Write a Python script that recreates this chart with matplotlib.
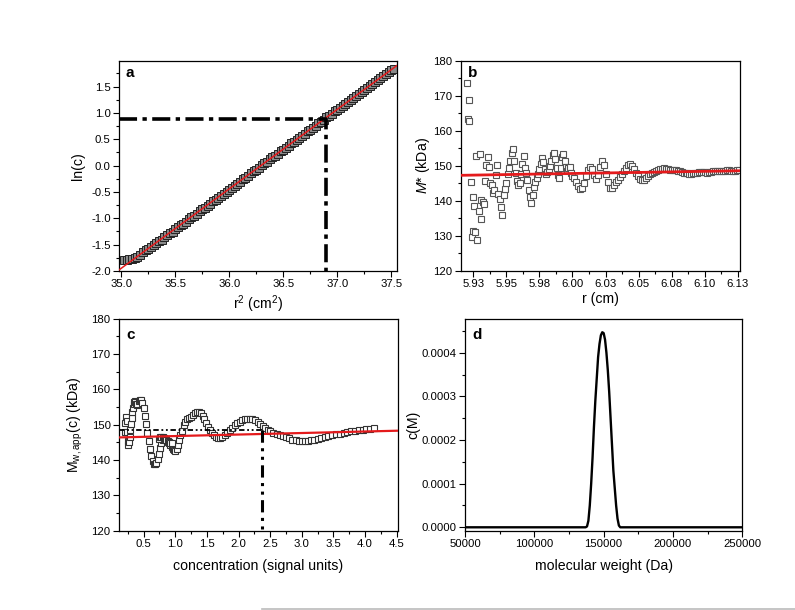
import matplotlib
matplotlib.use("Agg")
import matplotlib.pyplot as plt
from matplotlib.ticker import MultipleLocator, FixedLocator, FormatStrFormatter
from matplotlib.lines import Line2D

plt.rcParams['font.family'] = ['Liberation Sans', 'DejaVu Sans']
plt.rcParams['mathtext.fontset'] = 'custom'
plt.rcParams['mathtext.rm'] = 'Liberation Sans'
plt.rcParams['mathtext.it'] = 'Liberation Sans:italic'
plt.rcParams['mathtext.bf'] = 'Liberation Sans:bold'

# ---------------- data: panel a ----------------
rsq = [35.025, 35.050, 35.075, 35.100, 35.125, 35.150, 35.175, 35.200, 35.225, 35.250,
       35.275, 35.300, 35.325, 35.350, 35.375, 35.400, 35.425, 35.450, 35.475, 35.500,
       35.525, 35.550, 35.575, 35.600, 35.625, 35.650, 35.675, 35.700, 35.725, 35.750,
       35.775, 35.800, 35.825, 35.850, 35.875, 35.900, 35.925, 35.950, 35.975, 36.000,
       36.025, 36.050, 36.075, 36.100, 36.125, 36.150, 36.175, 36.200, 36.225, 36.250,
       36.275, 36.300, 36.325, 36.350, 36.375, 36.400, 36.425, 36.450, 36.475, 36.500,
       36.525, 36.550, 36.575, 36.600, 36.625, 36.650, 36.675, 36.700, 36.725, 36.750,
       36.775, 36.800, 36.825, 36.850, 36.875, 36.900, 36.925, 36.950, 36.975, 37.000,
       37.025, 37.050, 37.075, 37.100, 37.125, 37.150, 37.175, 37.200, 37.225, 37.250,
       37.275, 37.300, 37.325, 37.350, 37.375, 37.400, 37.425, 37.450, 37.475, 37.500,
       37.525]
lnc = [-1.79, -1.79, -1.78, -1.77, -1.76, -1.73, -1.69, -1.64, -1.61, -1.59,
       -1.55, -1.50, -1.46, -1.44, -1.41, -1.36, -1.31, -1.28, -1.26, -1.21,
       -1.16, -1.13, -1.11, -1.07, -1.02, -0.98, -0.96, -0.92, -0.87, -0.83,
       -0.81, -0.77, -0.72, -0.68, -0.66, -0.62, -0.57, -0.53, -0.51, -0.47,
       -0.42, -0.38, -0.35, -0.31, -0.26, -0.23, -0.20, -0.15, -0.11, -0.08,
       -0.04, 0.01, 0.04, 0.07, 0.12, 0.16, 0.18, 0.22, 0.27, 0.30,
       0.33, 0.38, 0.42, 0.44, 0.49, 0.53, 0.56, 0.60, 0.65, 0.68,
       0.71, 0.76, 0.80, 0.83, 0.87, 0.92, 0.95, 0.98, 1.03, 1.06,
       1.09, 1.14, 1.17, 1.20, 1.25, 1.29, 1.32, 1.36, 1.40, 1.43,
       1.48, 1.51, 1.55, 1.59, 1.62, 1.66, 1.70, 1.74, 1.77, 1.81,
       1.84]
fit_a_x = [34.979, 37.553]
fit_a_y = [-1.98, 1.90]
guide_a_x = [34.979, 36.9, 36.9]
guide_a_y = [0.88, 0.88, -2.0]

# ---------------- data: panel b ----------------
r_cm = [5.920, 5.921, 5.9215, 5.922, 5.923, 5.924, 5.9245, 5.925, 5.9255, 5.926,
        5.927, 5.928, 5.929, 5.930, 5.9305, 5.931, 5.932, 5.933, 5.934, 5.935,
        5.936, 5.937, 5.938, 5.939, 5.940, 5.941, 5.942, 5.943, 5.944, 5.945,
        5.946, 5.947, 5.948, 5.949, 5.950, 5.951, 5.952, 5.953, 5.954, 5.955,
        5.956, 5.957, 5.958, 5.959, 5.960, 5.961, 5.962, 5.963, 5.964, 5.965,
        5.966, 5.967, 5.968, 5.969, 5.970, 5.971, 5.972, 5.973, 5.974, 5.975,
        5.976, 5.977, 5.978, 5.979, 5.980, 5.981, 5.982, 5.983, 5.984, 5.985,
        5.986, 5.987, 5.988, 5.989, 5.990, 5.991, 5.992, 5.993, 5.994, 5.995,
        5.996, 5.997, 5.998, 5.999, 6.000,
        6.0015, 6.003, 6.0045, 6.006, 6.0075, 6.009, 6.0105, 6.012, 6.0135, 6.015,
        6.0165, 6.018, 6.0195, 6.021, 6.0225, 6.024, 6.0255, 6.027, 6.0285, 6.030,
        6.0315, 6.033, 6.0345, 6.036, 6.0375, 6.039, 6.0405, 6.042, 6.0435, 6.045,
        6.0465, 6.048, 6.0495, 6.051, 6.0525, 6.054, 6.0555, 6.057, 6.0585, 6.060,
        6.0615, 6.063, 6.0645, 6.066, 6.0675, 6.069, 6.0705, 6.072, 6.0735, 6.075,
        6.0765, 6.078, 6.0795, 6.081, 6.0825, 6.084, 6.0855, 6.087, 6.0885, 6.090,
        6.0915, 6.093, 6.0945, 6.096, 6.0975, 6.099, 6.1005, 6.102, 6.1035, 6.105,
        6.1065, 6.108, 6.1095, 6.111, 6.1125, 6.114, 6.1155, 6.117, 6.1185, 6.120,
        6.1215, 6.123, 6.1245, 6.126]
m_star = [173.5, 163.3, 162.7, 168.7, 145.5, 129.8, 141.2, 131.3, 138.5, 131.0,
          152.8, 128.9, 137.0, 153.4, 140.3, 134.8, 139.8, 139.0, 145.8, 150.3,
          152.6, 149.8, 145.1, 144.5, 142.2, 143.0, 147.5, 150.2, 142.0, 140.5,
          138.2, 136.0, 141.8, 143.5, 145.0, 147.6, 149.3, 151.5, 153.8, 154.7,
          151.3, 148.0, 145.8, 144.5, 145.0, 147.6, 150.6, 152.7, 149.4, 147.9,
          146.1, 143.0, 141.0, 139.5, 141.8, 144.0, 145.5, 146.5, 147.8, 149.0,
          150.5, 152.3, 151.2, 149.0, 147.6, 148.3, 149.2, 150.0, 151.5, 153.0,
          153.8, 152.0, 149.5, 147.5, 146.6, 149.5, 152.5, 153.5, 151.5, 149.6,
          148.5, 149.5, 149.8, 148.0, 147.2,
          146.5, 145.3, 144.2, 143.4, 143.6, 145.0, 147.0, 148.8, 149.6, 149.0,
          147.5, 146.3, 147.5, 149.8, 151.3, 150.2, 147.8, 145.3, 143.8, 143.7,
          144.5, 145.3, 146.0, 146.8, 147.6, 148.5, 149.4, 150.2, 150.5, 150.0,
          149.0, 148.0, 147.0, 146.3, 146.0, 146.1, 146.6, 147.1, 147.6, 148.0,
          148.3, 148.6, 148.9, 149.1, 149.2, 149.3, 149.2, 149.0, 148.9, 148.8,
          148.8, 148.7, 148.6, 148.5, 148.3, 148.1, 148.0, 147.9, 147.8, 147.8,
          147.9, 148.0, 148.1, 148.2, 148.3, 148.3, 148.2, 148.1, 148.2, 148.3,
          148.4, 148.5, 148.6, 148.5, 148.4, 148.5, 148.6, 148.7, 148.8, 148.6,
          148.5, 148.6, 148.7, 148.8]
fit_b_x = [5.9155, 6.1267]
fit_b_y = [147.3, 148.6]
b_tick_vals = [5.925, 5.95, 5.975, 6.0, 6.025, 6.05, 6.075, 6.1, 6.125]
b_tick_labels = ['5.93', '5.95', '5.98', '6.00', '6.03', '6.05', '6.08', '6.10', '6.13']

# ---------------- data: panel c ----------------
conc = [0.20, 0.21, 0.22, 0.23, 0.24, 0.25, 0.26, 0.27, 0.28, 0.29,
        0.30, 0.31, 0.32, 0.33, 0.34, 0.35, 0.36, 0.37, 0.38, 0.39,
        0.40, 0.42, 0.44, 0.46, 0.48, 0.50, 0.52, 0.54, 0.56, 0.58,
        0.60, 0.62, 0.64, 0.66, 0.68, 0.70, 0.72, 0.74, 0.76, 0.78,
        0.80, 0.82, 0.84, 0.86, 0.88, 0.90, 0.92, 0.94, 0.96, 0.98,
        1.00, 1.02, 1.04, 1.06, 1.08, 1.10, 1.13, 1.16, 1.19, 1.22,
        1.25, 1.28, 1.31, 1.34, 1.37, 1.40, 1.43, 1.46, 1.49, 1.52,
        1.55, 1.58, 1.61, 1.64, 1.67, 1.70, 1.74, 1.78, 1.82, 1.86,
        1.90, 1.94, 1.98, 2.02, 2.06, 2.10, 2.14, 2.18, 2.22, 2.26,
        2.30, 2.34, 2.38, 2.42, 2.46, 2.50, 2.55, 2.60, 2.65, 2.70,
        2.75, 2.80, 2.85, 2.90, 2.95, 3.00, 3.05, 3.10, 3.15, 3.20,
        3.25, 3.30, 3.36, 3.42, 3.48, 3.54, 3.60, 3.66, 3.72, 3.78,
        3.84, 3.90, 3.96, 4.02, 4.08, 4.14,
        0.74, 0.76, 0.78, 0.80, 0.82, 0.84, 0.86, 0.88, 0.90, 0.92, 0.94]
mw_app = [148.0, 150.5, 152.3, 151.0, 148.0, 145.5, 144.3, 145.0, 146.5, 148.5,
          150.3, 152.0, 153.5, 154.8, 155.8, 156.4, 156.7, 156.5, 155.9, 155.5,
          156.0, 156.6, 157.0, 157.0, 156.2, 154.6, 152.5, 150.2, 147.7, 145.3,
          143.0, 141.2, 139.8, 139.0, 138.8, 139.3, 140.3, 141.8, 143.3, 144.8,
          145.8, 146.2, 146.0, 145.6, 145.2, 144.8, 144.3, 143.8, 143.2, 142.7,
          142.5, 143.0, 144.2, 145.6, 147.0, 148.3, 149.8, 150.8, 151.5, 151.8,
          152.2, 152.8, 153.2, 153.5, 153.5, 153.2, 152.6, 151.6, 150.5, 149.4,
          148.5, 147.7, 147.0, 146.6, 146.3, 146.3, 146.6, 147.1, 147.7, 148.4,
          149.1, 149.8, 150.4, 150.9, 151.3, 151.5, 151.7, 151.7, 151.6, 151.3,
          150.9, 150.3, 149.6, 149.0, 148.5, 148.1, 147.7, 147.3, 147.0, 146.7,
          146.4, 146.1, 145.8, 145.6, 145.5, 145.4, 145.4, 145.5, 145.6, 145.8,
          146.0, 146.2, 146.5, 146.8, 147.0, 147.3, 147.5, 147.7, 147.9, 148.1,
          148.3, 148.5, 148.6, 148.8, 148.9, 149.1,
          146.0, 146.4, 146.5, 146.5, 146.3, 146.0, 145.7, 145.4, 145.1, 144.9, 144.7]
fit_c_x = [0.11, 4.52]
fit_c_y = [146.4, 148.3]
guide_c_h_x = [0.11, 2.37]
guide_c_h_y = [148.5, 148.5]
guide_c_v_x = [2.37, 2.37]
guide_c_v_y = [148.5, 120.0]

# ---------------- data: panel d ----------------
mol_wt = [50000, 100000, 137000, 138000, 139000, 140000, 141000, 142000, 143000,
          144000, 145000, 146000, 147000, 148000, 149000, 150000, 151000, 152000,
          153000, 154000, 155000, 156000, 157000, 158000, 159000, 160000, 161000,
          162000, 200000, 250000]
c_of_m = [0.0, 0.0, 0.0, 0.000002, 0.000015, 0.00005, 0.0001, 0.00016, 0.00023,
          0.00029, 0.00034, 0.00039, 0.00042, 0.00044, 0.000447, 0.000445, 0.00043,
          0.0004, 0.00036, 0.00031, 0.00025, 0.00019, 0.00013, 0.00009, 0.00005,
          0.00002, 0.000004, 0.0, 0.0, 0.0]

# ---------------- figure ----------------
W, H = 795, 610
fig = plt.figure(figsize=(W / 100, H / 100), dpi=100)


def box(l, t, r, b):
    return [l / W, 1 - b / H, (r - l) / W, (b - t) / H]


ax_a = fig.add_axes(box(119, 60.7, 397, 271))
ax_b = fig.add_axes(box(460.7, 60.7, 740, 271))
ax_c = fig.add_axes(box(119, 318.7, 398, 530.7))
ax_d = fig.add_axes(box(465, 318.7, 742.3, 530.7))

RED = '#e41a1c'
TFS = 8.2
LFS = 10.2

for ax in (ax_a, ax_b, ax_c, ax_d):
    for s in ax.spines.values():
        s.set_linewidth(0.9)
        s.set_color('black')
    ax.tick_params(which='both', direction='out', top=False, right=False,
                   labelsize=TFS, width=0.8, colors='black', pad=2)
    ax.tick_params(which='major', length=4)
    ax.tick_params(which='minor', length=2.5)

# panel a
ax_a.plot(rsq, lnc, ls='none', marker='s', ms=6.2, mfc='#8a8a8a', mec='#222222',
          mew=0.7, zorder=2)
ax_a.plot(fit_a_x, fit_a_y, color=RED, lw=1.1, zorder=3)
ax_a.plot(guide_a_x, guide_a_y, color='black', lw=2.6,
          ls=(0, (5, 1.5, 1.2, 1.5)), zorder=4, solid_capstyle='butt')
ax_a.set_xlim(34.979, 37.553)
ax_a.set_ylim(-2.0, 1.99)
ax_a.xaxis.set_major_locator(MultipleLocator(0.5))
ax_a.xaxis.set_minor_locator(MultipleLocator(0.25))
ax_a.yaxis.set_major_locator(MultipleLocator(0.5))
ax_a.yaxis.set_minor_locator(MultipleLocator(0.25))
ax_a.xaxis.set_major_formatter(FormatStrFormatter('%.1f'))
ax_a.yaxis.set_major_formatter(FormatStrFormatter('%.1f'))
ax_a.set_xlabel(r'r$^{2}$ (cm$^{2}$)', fontsize=LFS)
ax_a.set_ylabel('ln(c)', fontsize=LFS)
ax_a.xaxis.set_label_coords(0.5, -0.105)
ax_a.yaxis.set_label_coords(-0.122, 0.5)
ax_a.text(0.025, 0.94, 'a', transform=ax_a.transAxes, fontsize=11,
          fontweight='bold', va='center', ha='left')

# panel b
ax_b.plot(fit_b_x, fit_b_y, color=RED, lw=2.0, zorder=3)
ax_b.plot(r_cm, m_star, ls='none', marker='s', ms=4.8, mfc='white', mec='#555555',
          mew=0.8, zorder=2)
ax_b.set_xlim(5.9155, 6.1267)
ax_b.set_ylim(120, 180)
ax_b.xaxis.set_major_locator(FixedLocator(b_tick_vals))
ax_b.set_xticklabels(b_tick_labels)
ax_b.xaxis.set_minor_locator(MultipleLocator(0.0125))
ax_b.yaxis.set_major_locator(MultipleLocator(10))
ax_b.yaxis.set_minor_locator(MultipleLocator(5))
ax_b.set_xlabel('r (cm)', fontsize=LFS)
ax_b.set_ylabel(r'$M$* (kDa)', fontsize=LFS)
ax_b.xaxis.set_label_coords(0.5, -0.1)
ax_b.yaxis.set_label_coords(-0.103, 0.5)
ax_b.text(0.026, 0.94, 'b', transform=ax_b.transAxes, fontsize=11,
          fontweight='bold', va='center', ha='left')

# panel c
ax_c.plot(conc, mw_app, ls='none', marker='s', ms=4.8, mfc='white', mec='#333333',
          mew=0.8, zorder=2)
ax_c.plot(fit_c_x, fit_c_y, color=RED, lw=1.6, zorder=3)
ax_c.plot(guide_c_h_x, guide_c_h_y, color='black', lw=1.3,
          ls=(0, (3, 1.5, 1, 1.5, 1, 1.5)), zorder=4)
ax_c.plot(guide_c_v_x, guide_c_v_y, color='black', lw=2.2,
          ls=(0, (4, 1.8, 1, 1.8, 1, 1.8)), zorder=4)
ax_c.set_xlim(0.11, 4.52)
ax_c.set_ylim(120, 180)
ax_c.xaxis.set_major_locator(MultipleLocator(0.5))
ax_c.xaxis.set_minor_locator(MultipleLocator(0.25))
ax_c.yaxis.set_major_locator(MultipleLocator(10))
ax_c.yaxis.set_minor_locator(MultipleLocator(5))
ax_c.xaxis.set_major_formatter(FormatStrFormatter('%.1f'))
ax_c.set_xlabel('concentration (signal units)', fontsize=LFS)
ax_c.set_ylabel(r'M$_{\mathrm{w,app}}$(c) (kDa)', fontsize=LFS)
ax_c.xaxis.set_label_coords(0.5, -0.135)
ax_c.yaxis.set_label_coords(-0.122, 0.5)
ax_c.text(0.025, 0.923, 'c', transform=ax_c.transAxes, fontsize=11,
          fontweight='bold', va='center', ha='left')

# panel d
ax_d.plot(mol_wt, c_of_m, color='black', lw=1.7)
ax_d.set_xlim(50000, 250000)
ax_d.set_ylim(-0.0000078, 0.000478)
ax_d.xaxis.set_major_locator(MultipleLocator(50000))
ax_d.xaxis.set_minor_locator(MultipleLocator(25000))
ax_d.yaxis.set_major_locator(MultipleLocator(0.0001))
ax_d.yaxis.set_minor_locator(MultipleLocator(0.00005))
ax_d.yaxis.set_major_formatter(FormatStrFormatter('%.4f'))
ax_d.xaxis.set_major_formatter(FormatStrFormatter('%d'))
ax_d.set_xlabel('molecular weight (Da)', fontsize=LFS)
ax_d.set_ylabel('c(M)', fontsize=LFS)
ax_d.xaxis.set_label_coords(0.5, -0.135)
ax_d.yaxis.set_label_coords(-0.162, 0.5)
ax_d.text(0.026, 0.923, 'd', transform=ax_d.transAxes, fontsize=11,
          fontweight='bold', va='center', ha='left')

# faint page rule at the bottom
fig.add_artist(Line2D([262 / W, 1.0], [1 - 609 / H, 1 - 609 / H],
                      color='#bbbbbb', lw=1.2))

fig.savefig('out.png', dpi=100)
